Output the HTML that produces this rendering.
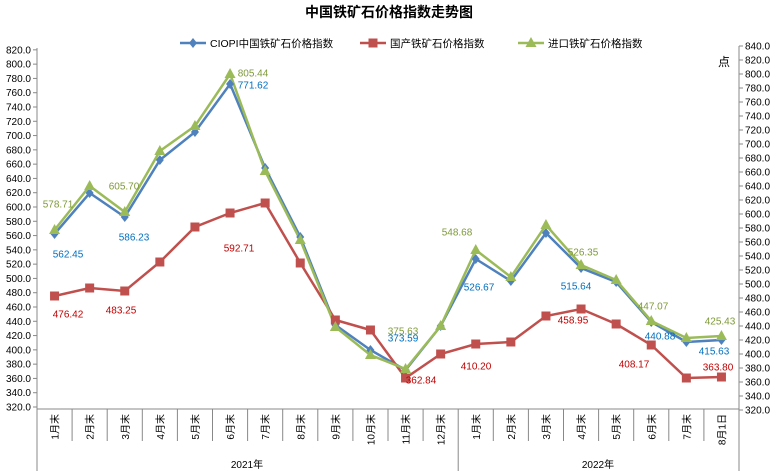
<!DOCTYPE html>
<html><head><meta charset="utf-8"><style>
body{margin:0;background:#fff;}
svg{display:block;font-family:"Liberation Sans","Noto Sans CJK SC",sans-serif;}
</style></head><body>
<svg id="s" width="779" height="471" viewBox="0 0 779 471" xmlns="http://www.w3.org/2000/svg"></svg>
<script>
const s=document.getElementById('s');let h='';
h+='<rect width="779" height="471" fill="#fff"/>';
h+='<text x="389" y="17" text-anchor="middle" font-size="14" font-weight="bold">中国铁矿石价格指数走势图</text>';
// axes
h+='<line x1="37" y1="48" x2="37" y2="471" stroke="#888"/>';
h+='<line x1="739" y1="46" x2="739" y2="471" stroke="#888"/>';
h+='<line x1="37" y1="409" x2="739" y2="409" stroke="#888"/>';
for(let v=320;v<=820;v+=20){const y=407-(v-320)*0.7143;h+=`<line x1="33" y1="${y}" x2="37" y2="${y}" stroke="#888"/><text x="31" y="${y+3.5}" text-anchor="end" font-size="10">${v}.0</text>`;}
for(let v=320;v<=840;v+=20){const y=410-(v-320)*0.7;h+=`<line x1="739" y1="${y}" x2="743" y2="${y}" stroke="#888"/><text x="745" y="${y+3.5}" font-size="10">${v}.0</text>`;}
h+='<text x="718" y="66" font-size="12">点</text>';
const cw=35.1;
const cats=['1月末','2月末','3月末','4月末','5月末','6月末','7月末','8月末','9月末','10月末','11月末','12月末','1月末','2月末','3月末','4月末','5月末','6月末','7月末','8月1日'];
for(let i=0;i<=20;i++){const x=37+cw*i;const yy=(i==0||i==12||i==20)?471:441;h+=`<line x1="${x}" y1="409" x2="${x}" y2="${yy}" stroke="#888"/>`;}
cats.forEach((c,i)=>{const x=37+cw*(i+0.5);h+=`<text transform="translate(${x+4},414) rotate(-90)" text-anchor="end" font-size="10">${c}</text>`;});
h+='<text x="247" y="468" text-anchor="middle" font-size="10">2021年</text>';
h+='<text x="598" y="468" text-anchor="middle" font-size="10">2022年</text>';
const B=[234,193,217,160,132,84,168,237,325,350,370,326,259,281,233,268,282,322,342,340];
const R=[296,288,291,262,227,213,203,263,320,330,378,354,344,342,316,309,324,345,378,377];
const G=[230,186,212,151,126,74,171,240,327,355,369,326,250,277,225,265,280,321,338,336];
function line(a,c){return `<polyline fill="none" stroke="${c}" stroke-width="2.5" points="${a.map((y,i)=>(37+cw*(i+.5)).toFixed(1)+','+y).join(' ')}"/>`;}
h+=line(B,'#4f81bd');h+=line(R,'#c0504d');h+=line(G,'#9bbb59');
B.forEach((y,i)=>{const x=37+cw*(i+.5);h+=`<polygon points="${x},${y-5} ${x+4},${y} ${x},${y+5} ${x-4},${y}" fill="#4f81bd"/>`;});
R.forEach((y,i)=>{const x=37+cw*(i+.5);h+=`<rect x="${x-4.5}" y="${y-4.5}" width="9" height="9" fill="#c0504d"/>`;});
G.forEach((y,i)=>{const x=37+cw*(i+.5);h+=`<polygon points="${x},${y-6} ${x+5.5},${y+4} ${x-5.5},${y+4}" fill="#9bbb59"/>`;});
const L=[['578.71',58,204,'#7f9a3a'],['562.45',68,254,'#0070c0'],['605.70',124,186,'#7f9a3a'],['586.23',134,237,'#0070c0'],['805.44',253,73,'#7f9a3a'],['771.62',253,85,'#0070c0'],['476.42',68,314,'#c00000'],['483.25',121,310,'#c00000'],['592.71',239,248,'#c00000'],['375.63',403,331,'#7f9a3a'],['373.59',403,338,'#0070c0'],['362.84',421,380,'#c00000'],['548.68',457,232,'#7f9a3a'],['526.67',479,287,'#0070c0'],['410.20',476,366,'#c00000'],['515.64',576,286,'#0070c0'],['526.35',583,252,'#7f9a3a'],['458.95',573,320,'#c00000'],['447.07',653,306,'#7f9a3a'],['440.88',660,336,'#0070c0'],['408.17',634,364,'#c00000'],['425.43',720,321,'#7f9a3a'],['415.63',714,351,'#0070c0'],['363.80',718,367,'#c00000']];
L.forEach(l=>{h+=`<text x="${l[1]}" y="${l[2]+3.5}" text-anchor="middle" font-size="10" fill="${l[3]}">${l[0]}</text>`;});
// legend
function leg(x,c,t,m){let r=`<line x1="${x}" y1="43" x2="${x+26}" y2="43" stroke="${c}" stroke-width="2.5"/>`;const cx=x+13;
if(m==0)r+=`<polygon points="${cx},38 ${cx+4},43 ${cx},48 ${cx-4},43" fill="${c}"/>`;else if(m==1)r+=`<rect x="${cx-4.5}" y="38.5" width="9" height="9" fill="${c}"/>`;else r+=`<polygon points="${cx},37 ${cx+5.5},47 ${cx-5.5},47" fill="${c}"/>`;
return r+`<text x="${x+30}" y="47" font-size="10.5">${t}</text>`;}
h+=leg(180,'#4f81bd','CIOPI中国铁矿石价格指数',0);
h+=leg(360,'#c0504d','国产铁矿石价格指数',1);
h+=leg(518,'#9bbb59','进口铁矿石价格指数',2);
s.innerHTML=h;
</script>
</body></html>
